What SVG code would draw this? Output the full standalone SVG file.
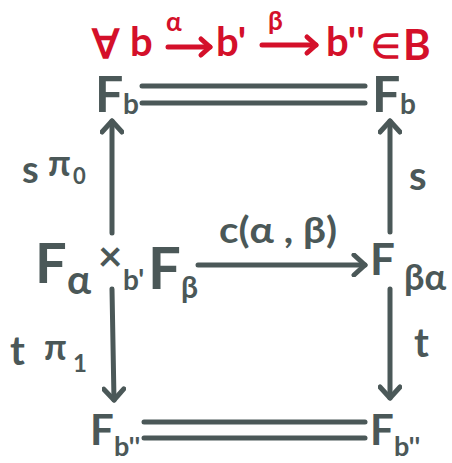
<svg xmlns="http://www.w3.org/2000/svg" width="452" height="463" viewBox="0 0 452 463">
<style>
text{font-family:"Lato","Noto Sans",sans-serif;font-weight:700;fill:#4b5858}
.r{fill:#d4102a}
.ln{stroke:#4b5858;stroke-width:5;stroke-linecap:round;fill:none}
.rl{stroke:#d4102a;stroke-width:5;stroke-linecap:round;fill:none}
</style>
<defs>
<marker id="ah" markerUnits="userSpaceOnUse" viewBox="-14 -12 18 24" markerWidth="18" markerHeight="24" refX="0" refY="0" orient="auto">
<path d="M-11,-10 L0,0 L-11,10" fill="none" stroke="#4b5858" stroke-width="5" stroke-linecap="round" stroke-linejoin="round"/>
</marker>
<marker id="ahr" markerUnits="userSpaceOnUse" viewBox="-14 -12 18 24" markerWidth="18" markerHeight="24" refX="0" refY="0" orient="auto">
<path d="M-9,-8 L0,0 L-9,8" fill="none" stroke="#d4102a" stroke-width="5" stroke-linecap="round" stroke-linejoin="round"/>
</marker>
</defs>
<g id="caption">
<text class="r" x="92" y="58" font-size="40">∀</text>
<text class="r" x="130" y="56" font-size="40">b</text>
<text class="r" x="166" y="31" font-size="26">α</text>
<text class="r" x="216" y="56" font-size="40">b'</text>
<text class="r" x="268" y="30" font-size="26">β</text>
<text class="r" x="326" y="56" font-size="40">b''</text>
<text class="r" x="371" y="58" font-size="34">∈</text>
<text class="r" x="403" y="60" font-size="42">B</text>
<line class="rl" x1="168" y1="47" x2="210" y2="47" marker-end="url(#ahr)"/>
<line class="rl" x1="262" y1="45" x2="316" y2="45" marker-end="url(#ahr)"/>
</g>
<g id="n-top-left">
<text x="95" y="112" font-size="50">F</text>
<text x="123" y="114" font-size="28">b</text>
</g>
<g id="n-top-right">
<text x="372" y="112" font-size="50">F</text>
<text x="400" y="114" font-size="28">b</text>
</g>
<g id="n-mid-left">
<text x="35" y="283" font-size="56">F</text>
<text x="67" y="294" font-size="40">α</text>
<text x="98" y="271" font-size="42">×</text>
<text x="123" y="290" font-size="28">b'</text>
<text x="148" y="289" font-size="58">F</text>
<text x="181" y="298" font-size="30">β</text>
</g>
<g id="n-mid-right">
<text x="370" y="275" font-size="44">F</text>
<text x="404" y="290" font-size="36">βα</text>
</g>
<g id="n-bot-left">
<text x="90" y="445" font-size="42">F</text>
<text x="114" y="456" font-size="27">b''</text>
</g>
<g id="n-bot-right">
<text x="370" y="445" font-size="42">F</text>
<text x="394" y="456" font-size="27">b''</text>
</g>
<g id="connectors">
<line class="ln" x1="142" y1="86" x2="365" y2="86"/>
<line class="ln" x1="142" y1="103" x2="365" y2="103"/>
<line class="ln" x1="144" y1="422" x2="365" y2="422"/>
<line class="ln" x1="144" y1="438" x2="365" y2="438"/>
<line class="ln" x1="112" y1="233" x2="112" y2="121" marker-end="url(#ah)"/>
<line class="ln" x1="390" y1="232" x2="390" y2="121" marker-end="url(#ah)"/>
<line class="ln" x1="112" y1="289" x2="114" y2="400" marker-end="url(#ah)"/>
<line class="ln" x1="390" y1="289" x2="390" y2="398" marker-end="url(#ah)"/>
<line class="ln" x1="198" y1="265" x2="365" y2="265" marker-end="url(#ah)"/>
</g>
<g id="labels">
<text x="22" y="183" font-size="38">s</text>
<text x="48" y="176" font-size="36">π</text>
<text x="73" y="184" font-size="22">0</text>
<text x="409" y="190" font-size="40">s</text>
<text x="219" y="243" font-size="36" textLength="118" lengthAdjust="spacingAndGlyphs">c(α , β)</text>
<text x="10" y="365" font-size="40">t</text>
<text x="44" y="360" font-size="36">π</text>
<text x="73" y="372" font-size="24">1</text>
<text x="414" y="357" font-size="40">t</text>
</g>
</svg>
